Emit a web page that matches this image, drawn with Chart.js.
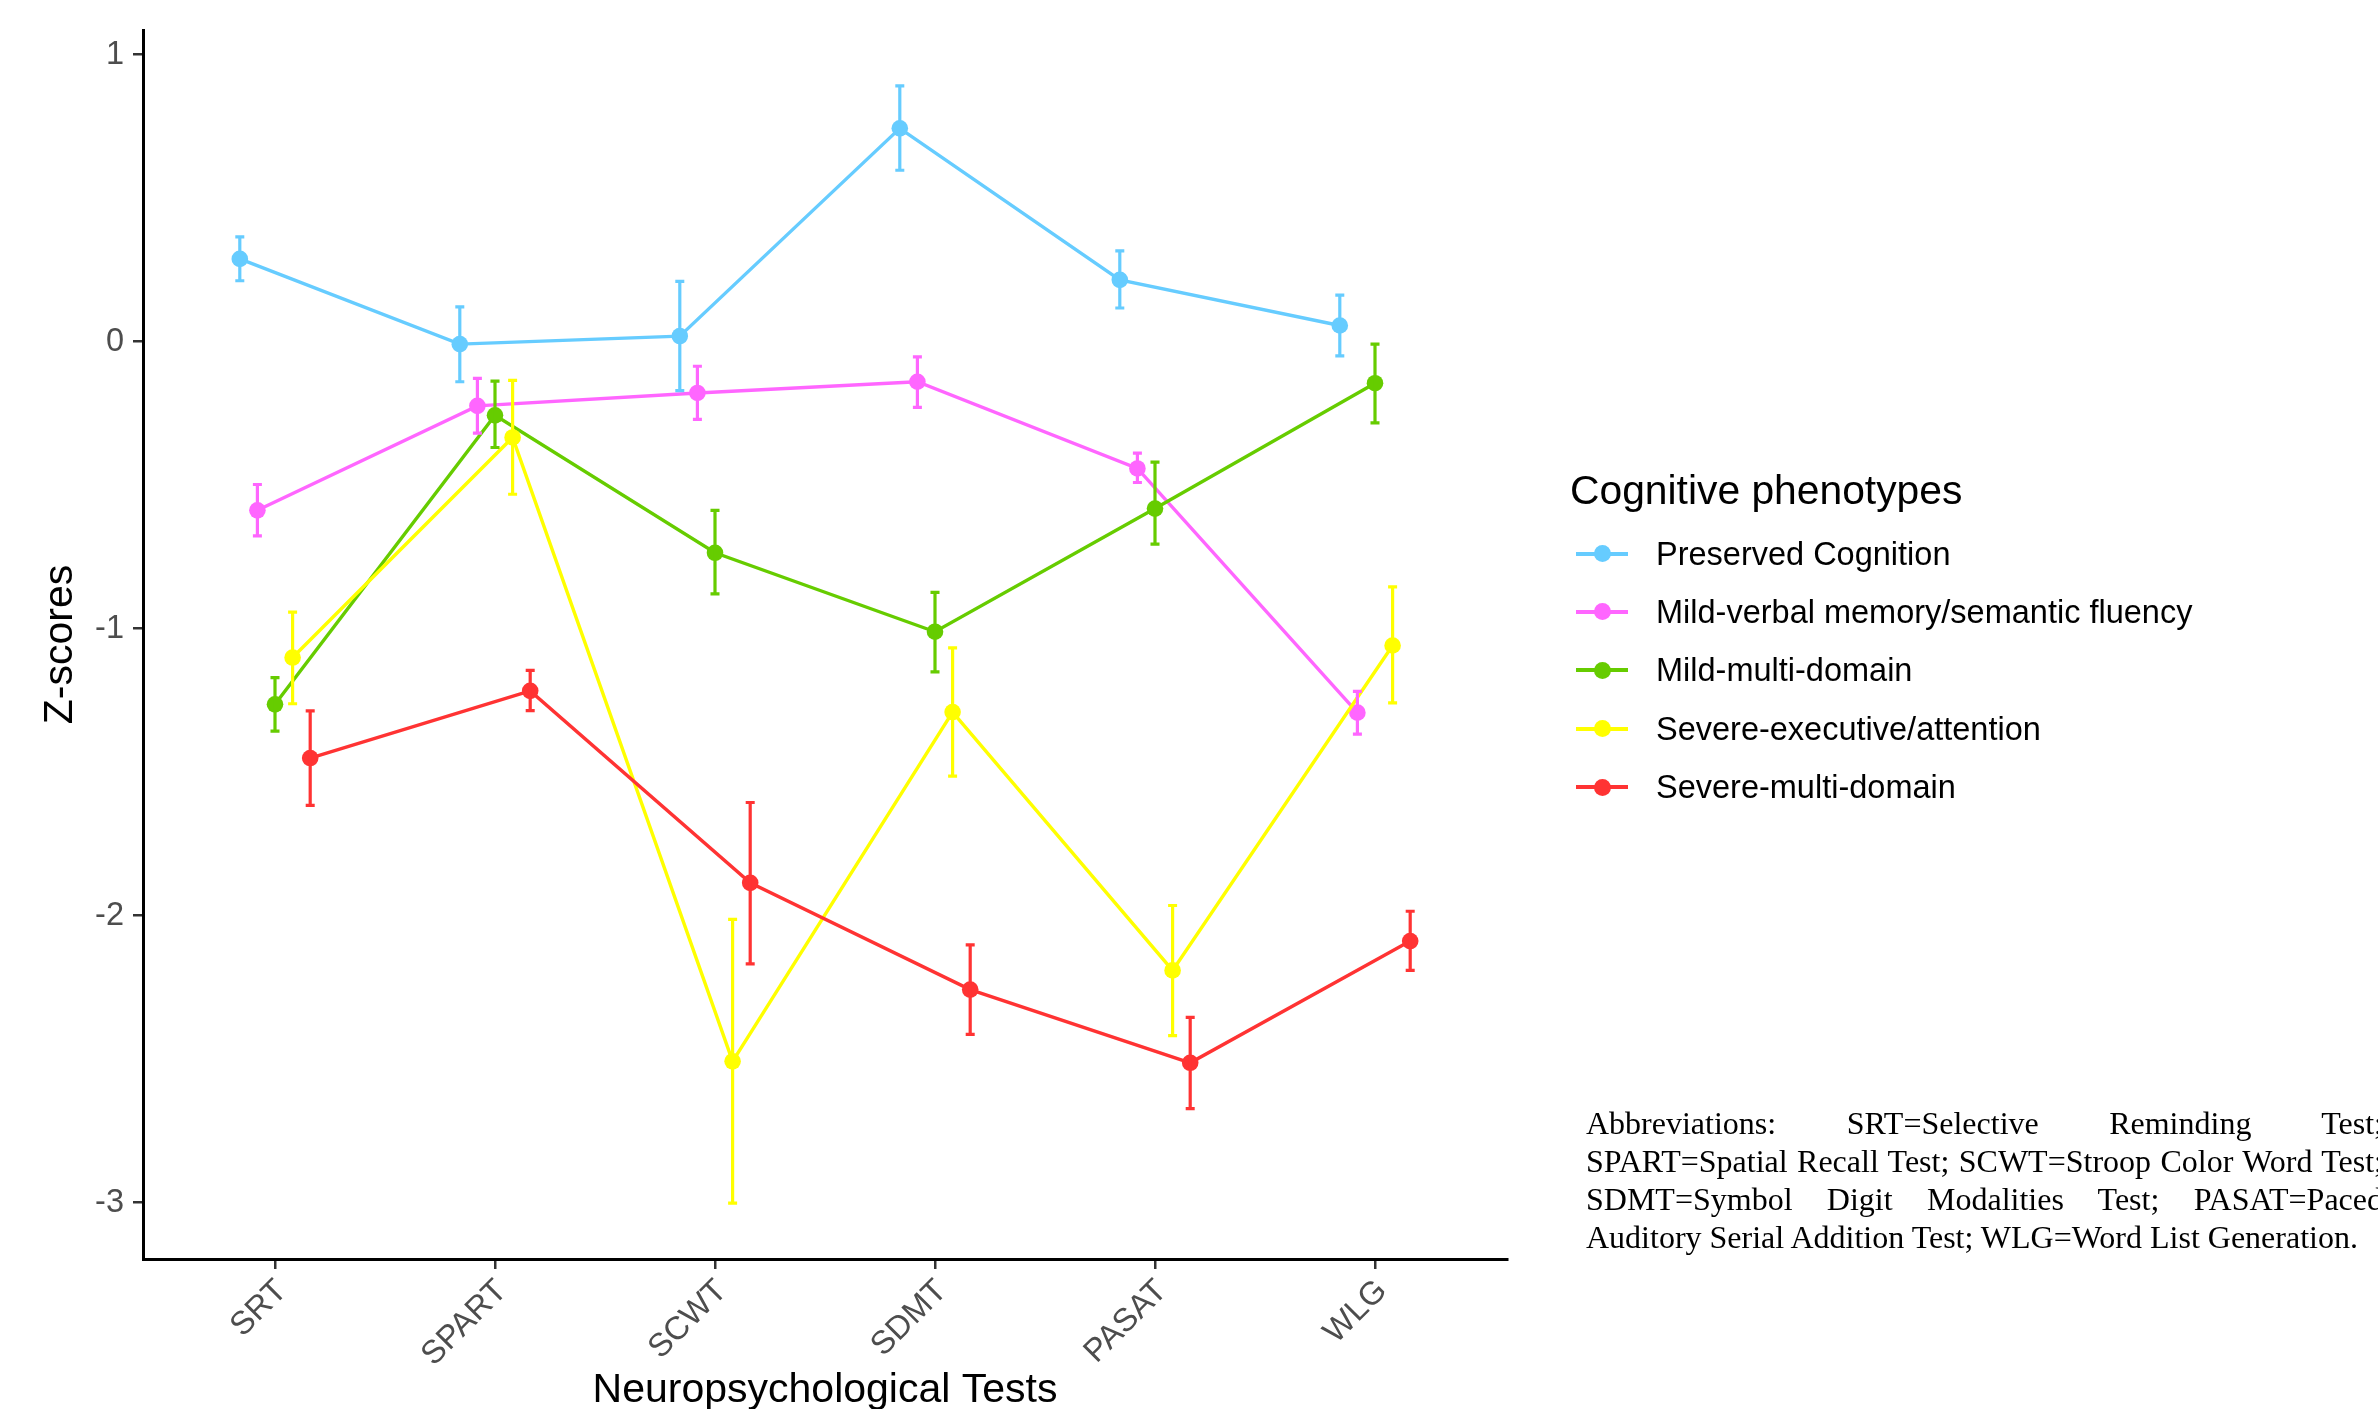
<!DOCTYPE html>
<html>
<head>
<meta charset="utf-8">
<title>Cognitive phenotypes</title>
<script src="https://cdn.jsdelivr.net/npm/chart.js@4.4.1/dist/chart.umd.min.js"></script>
<style>
  html, body { margin: 0; padding: 0; background: #fff; overflow: hidden; }
  #wrap { position: relative; width: 2378px; height: 1409px; font-family: "Liberation Sans", Helvetica, Arial, sans-serif; }
  #chart-box { position: absolute; left: 0; top: 0; width: 2378px; height: 1409px; }
  .legend-title { position: absolute; left: 1570px; top: 466px; font-size: 40.8px; line-height: 48px; color: #000; white-space: nowrap; }
  .legend-row { position: absolute; left: 1576px; height: 40px; white-space: nowrap; }
  .legend-key { position: absolute; left: 0; top: 0; width: 52px; height: 40px; }
  .legend-key .ln { position: absolute; left: 0; top: 18px; width: 52px; height: 4px; }
  .legend-key .dot { position: absolute; left: 17.5px; top: 11.5px; width: 17px; height: 17px; border-radius: 50%; }
  .legend-label { position: absolute; left: 80px; top: 0; font-size: 32.5px; line-height: 40px; color: #000; }
  .note { position: absolute; left: 1586px; width: 797px; font-family: "Liberation Serif", "Times New Roman", Times, serif; font-size: 32px; line-height: 38px; color: #000; white-space: nowrap; }
  .note.j { text-align: justify; text-align-last: justify; white-space: normal; }
</style>
</head>
<body>
<div id="wrap">
  <div id="chart-box"><canvas id="chart"></canvas></div>
  <div id="legend"></div>
  <div id="notes"></div>
</div>
<script>
// categories on the x axis
const tests = ['SRT', 'SPART', 'SCWT', 'SDMT', 'PASAT', 'WLG'];
const yTicks = [-3, -2, -1, 0, 1];

// phenotype groups
const groups = [
    'Preserved Cognition',
    'Mild-verbal memory/semantic fluency',
    'Mild-multi-domain',
    'Severe-executive/attention',
    'Severe-multi-domain'
];
const colors = ['#66CCFF', '#FF66FF', '#66CC00', '#FFFF00', '#FF3333'];

// mean z-scores per group
const preserved = [0.288, -0.009, 0.019, 0.743, 0.215, 0.056];
const mildVerbal = [-0.588, -0.224, -0.179, -0.140, -0.442, -1.293];
const mildMulti = [-1.264, -0.257, -0.736, -1.011, -0.582, -0.145];
const severeExec = [-1.101, -0.334, -2.508, -1.291, -2.191, -1.059];
const severeMulti = [-1.451, -1.217, -1.886, -2.258, -2.513, -2.089];

// lower ends of error bars
const preservedLo = [0.212, -0.140, -0.171, 0.597, 0.117, -0.050];
const mildVerbalLo = [-0.677, -0.319, -0.271, -0.229, -0.491, -1.368];
const mildMultiLo = [-1.357, -0.369, -0.879, -1.151, -0.706, -0.283];
const severeExecLo = [-1.262, -0.532, -3.002, -1.514, -2.418, -1.259];
const severeMultiLo = [-1.616, -1.286, -2.168, -2.414, -2.673, -2.191];

// upper ends of error bars
const preservedHi = [0.365, 0.121, 0.210, 0.891, 0.316, 0.162];
const mildVerbalHi = [-0.498, -0.128, -0.086, -0.053, -0.389, -1.219];
const mildMultiHi = [-1.171, -0.138, -0.588, -0.874, -0.420, -0.009];
const severeExecHi = [-0.943, -0.135, -2.013, -1.067, -1.965, -0.855];
const severeMultiHi = [-1.287, -1.146, -1.606, -2.102, -2.355, -1.985];

const abbreviations = [
    'Abbreviations: SRT=Selective Reminding Test;',
    'SPART=Spatial Recall Test; SCWT=Stroop Color Word Test;',
    'SDMT=Symbol Digit Modalities Test; PASAT=Paced',
    'Auditory Serial Addition Test; WLG=Word List Generation.'
];

const means = [preserved, mildVerbal, mildMulti, severeExec, severeMulti];
const lows = [preservedLo, mildVerbalLo, mildMultiLo, severeExecLo, severeMultiLo];
const highs = [preservedHi, mildVerbalHi, mildMultiHi, severeExecHi, severeMultiHi];

const dodge = 0.08;

// y range like ggplot: data range plus 5% each side
const allLo = Math.min(...lows.flat());
const allHi = Math.max(...highs.flat());
const pad = (allHi - allLo) * 0.05;

const datasets = groups.map((name, k) => ({
    label: name,
    data: means[k].map((v, i) => ({ x: i + (k - 2) * dodge, y: v, lo: lows[k][i], hi: highs[k][i] })),
    borderColor: colors[k],
    backgroundColor: colors[k],
    borderWidth: 3.4,
    pointRadius: 8.3,
    pointHoverRadius: 8.3,
    pointBorderWidth: 0,
    tension: 0,
    order: groups.length - k
}));

// draws the vertical error bars with small caps
const errorBars = {
    id: 'errorBars',
    afterDatasetsDraw(chart) {
        const { ctx, scales: { x, y } } = chart;
        chart.data.datasets.forEach((ds) => {
            ctx.save();
            ctx.strokeStyle = ds.borderColor;
            ctx.lineWidth = 3.2;
            ds.data.forEach((p) => {
                const px = x.getPixelForValue(p.x);
                const top = y.getPixelForValue(p.hi);
                const bot = y.getPixelForValue(p.lo);
                ctx.beginPath();
                ctx.moveTo(px, top); ctx.lineTo(px, bot);
                ctx.moveTo(px - 4.5, top); ctx.lineTo(px + 4.5, top);
                ctx.moveTo(px - 4.5, bot); ctx.lineTo(px + 4.5, bot);
                ctx.stroke();
            });
            ctx.restore();
        });
    }
};

const tickFont = { family: '"Liberation Sans", Helvetica, Arial, sans-serif', size: 32.5 };
const titleFont = { family: '"Liberation Sans", Helvetica, Arial, sans-serif', size: 41, lineHeight: 0.9 };

new Chart(document.getElementById('chart'), {
    type: 'line',
    data: { datasets: datasets },
    plugins: [errorBars],
    options: {
        responsive: true,
        maintainAspectRatio: false,
        animation: false,
        events: [],
        layout: { padding: { left: 0, top: 30, right: 871, bottom: 0 } },
        plugins: { legend: { display: false }, tooltip: { enabled: false } },
        scales: {
            x: {
                type: 'linear',
                min: -0.6,
                max: tests.length - 1 + 0.6,
                afterBuildTicks: (s) => { s.ticks = tests.map((_, i) => ({ value: i })); },
                afterFit: (s) => { s.height = 150; },
                grid: { drawOnChartArea: false, drawTicks: true, tickLength: 10, color: '#333333', lineWidth: 2.5 },
                border: { display: true, color: '#000000', width: 3 },
                ticks: {
                    autoSkip: false,
                    minRotation: 45,
                    maxRotation: 45,
                    padding: 3,
                    labelOffset: 7,
                    color: '#4D4D4D',
                    font: tickFont,
                    callback: (v) => tests[v]
                },
                title: { display: true, text: 'Neuropsychological Tests', color: '#000000', font: titleFont, padding: { top: 0, bottom: 0 } }
            },
            y: {
                min: allLo - pad,
                max: allHi + pad,
                afterBuildTicks: (s) => { s.ticks = yTicks.map((v) => ({ value: v })); },
                afterFit: (s) => { s.width = 143; },
                grid: { drawOnChartArea: false, drawTicks: true, tickLength: 10, color: '#333333', lineWidth: 2.5 },
                border: { display: true, color: '#000000', width: 3 },
                ticks: {
                    padding: 9,
                    color: '#4D4D4D',
                    font: tickFont,
                    callback: (v) => String(v)
                },
                title: { display: true, text: 'Z-scores', color: '#000000', font: titleFont, padding: { top: 42 } }
            }
        }
    }
});

// legend on the right
const legend = document.getElementById('legend');
const title = document.createElement('div');
title.className = 'legend-title';
title.textContent = 'Cognitive phenotypes';
legend.appendChild(title);
groups.forEach((name, k) => {
    const row = document.createElement('div');
    row.className = 'legend-row';
    row.style.top = (533.5 + k * 58.4) + 'px';
    row.innerHTML = '<div class="legend-key"><div class="ln"></div><div class="dot"></div></div><div class="legend-label"></div>';
    row.querySelector('.ln').style.background = colors[k];
    row.querySelector('.dot').style.background = colors[k];
    row.querySelector('.legend-label').textContent = name;
    legend.appendChild(row);
});

// abbreviations note
const notes = document.getElementById('notes');
abbreviations.forEach((line, i) => {
    const d = document.createElement('div');
    d.className = i < abbreviations.length - 1 ? 'note j' : 'note';
    d.style.top = (1104 + i * 38) + 'px';
    d.textContent = line;
    notes.appendChild(d);
});
</script>
</body>
</html>
